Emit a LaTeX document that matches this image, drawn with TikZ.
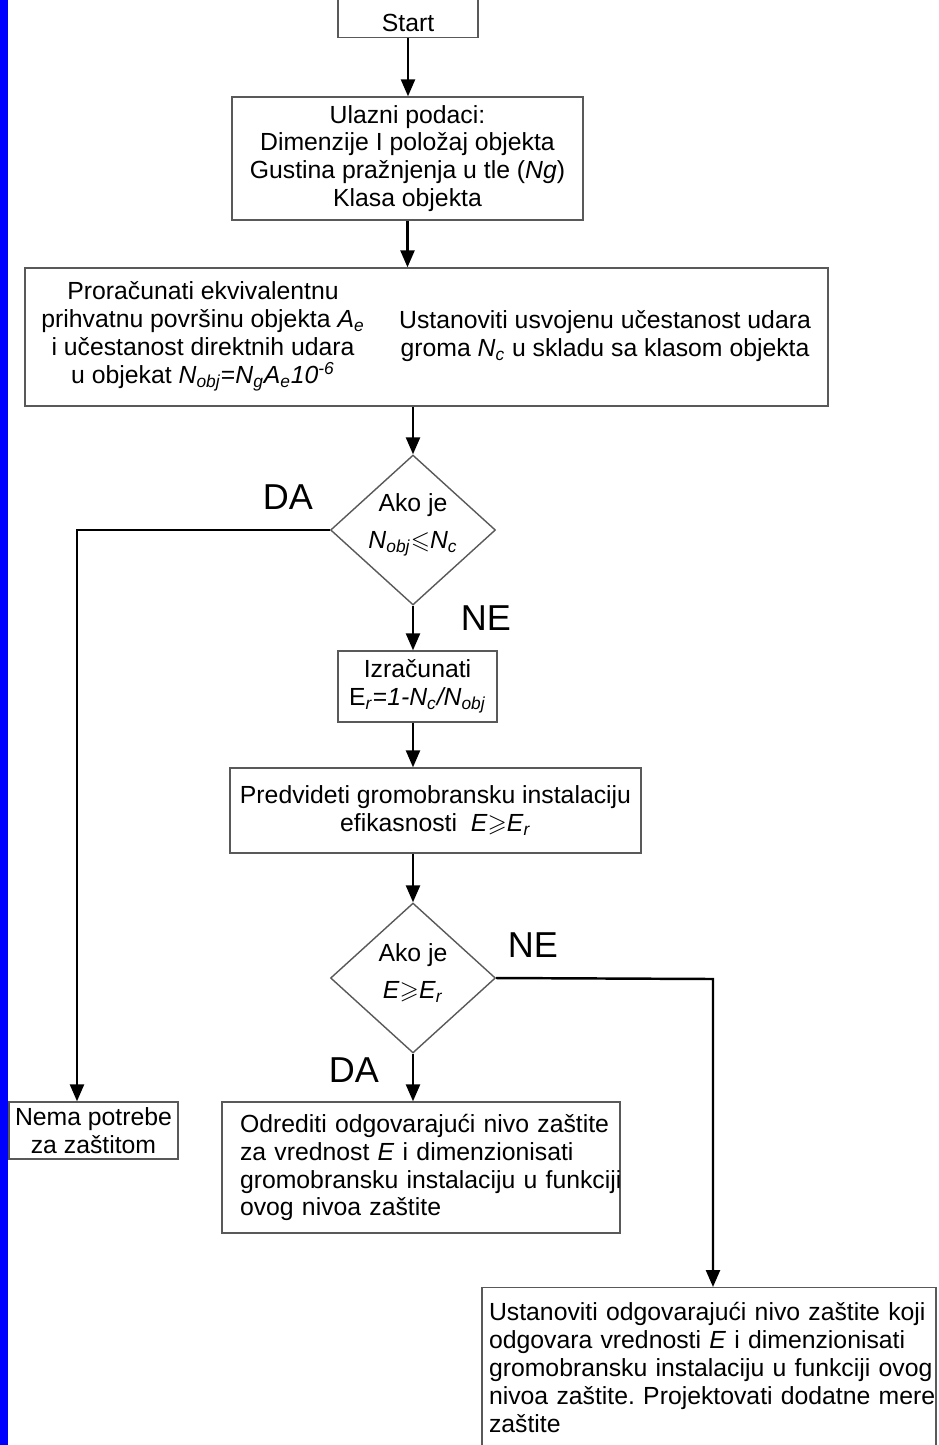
\documentclass[tikz,border=0pt]{standalone}
\usepackage{fontspec}
\setmainfont{Liberation Sans}
\usepackage{amssymb}
\usetikzlibrary{shapes.geometric,arrows.meta}
\tikzset{
  every node/.style={font=\fontsize{14.1}{15.9}\selectfont},
  box/.style={draw=black!65,line width=0.8pt,inner sep=0pt,align=center},
  decision/.style={box,diamond,minimum width=3.3cm,minimum height=3cm},
  answer/.style={font=\fontsize{20.5}{24}\selectfont},
}
\newcommand{\sub}[1]{\textsubscript{\textit{#1}}}
\frenchspacing
\begin{document}
\begin{tikzpicture}[x=0.02cm,y=-0.02cm,>={Triangle[length=0.34cm,width=0.28cm]},line width=1.4pt]
\useasboundingbox (0,0) rectangle (938,1445);
\fill[blue] (0,0) rectangle (8,1445);
% main column
\node[box,anchor=south,minimum width=2.8cm,text height=1cm,text depth=0.11cm] (start) at (408,38) {Start};
\node[box,minimum width=7.02cm,minimum height=2.46cm] (input) at (407.5,158.5)
  {Ulazni podaci:\\ Dimenzije I položaj objekta\\ Gustina pražnjenja u tle (\textit{Ng})\\ Klasa objekta};
\node[box,minimum width=16.06cm,minimum height=2.76cm] (calc) at (426.5,337) {};
\node[align=center] (calcA) at (203,336)
  {Proračunati ekvivalentnu\\ prihvatnu površinu objekta \textit{A}\sub{e}\\ i učestanost direktnih udara\\
   u objekat \textit{N}\sub{obj}=\textit{N}\sub{g}\textit{A}\sub{e}\textit{10}\textsuperscript{\textit{-6}}};
\node[align=center] (calcB) at (605,336)
  {Ustanoviti usvojenu učestanost udara\\ groma \textit{N}\sub{c} u skladu sa klasom objekta};
\node[decision] (dec1) at (413,530) {};
\node[align=center] (dec1txt) at (413,525) {Ako je\\[5pt] \textit{N}\sub{obj}$\leqslant$\textit{N}\sub{c}};
\node[box,minimum width=3.18cm,minimum height=1.42cm] (izr) at (417.5,686.5)
  {Izračunati\\ E\sub{r}=\textit{1-N}\sub{c}\textit{/N}\sub{obj}};
\node[box,minimum width=8.22cm,minimum height=1.7cm] (pred) at (435.5,810.5)
  {Predvideti gromobransku instalaciju\\ efikasnosti \ \textit{E}$\geqslant$\textit{E}\sub{r}};
\node[decision] (dec2) at (413,978) {};
\node[align=center] (dec2txt) at (413,973) {Ako je\\[5pt] \textit{E}$\geqslant$\textit{E}\sub{r}};
% outcomes
\node[box,minimum width=3.38cm,minimum height=1.14cm] (nema) at (93.5,1130.5) {Nema potrebe\\ za zaštitom};
\node[box,align=left,inner xsep=0.36cm,text width=7.24cm,minimum height=2.62cm] (odr) at (421,1167.5)
  {\mbox{Odrediti odgovarajući nivo zaštite}\\ \mbox{za vrednost \textit{E} i dimenzionisati}\\
   \mbox{gromobransku instalaciju u funkciji}\\ \mbox{ovog nivoa zaštite}};
\node[box,align=left,anchor=north,inner xsep=0.14cm,inner ysep=0.3cm,text width=8.8cm] (ust) at (709,1287)
  {\mbox{Ustanoviti odgovarajući nivo zaštite koji}\\ \mbox{odgovara vrednosti \textit{E} i dimenzionisati}\\
   \mbox{gromobransku instalaciju u funkciji ovog}\\ \mbox{nivoa zaštite. Projektovati dodatne mere}\\ zaštite\\[6pt]};
\node[answer] (da1) at (288,497) {DA};
\node[answer] (ne1) at (486,618) {NE};
\node[answer] (ne2) at (533,945) {NE};
\node[answer] (da2) at (354,1070) {DA};
\coordinate (daturn) at (77,530);
\coordinate (neturn) at (713,979);
% connectors
\draw[->] (start.south) -- (start.south |- input.north);
\draw[->] (input.south) -- (input.south |- calc.north);
\draw[->] (dec1.north |- calc.south) -- (dec1.north);
\draw[->] (dec1.south) -- (dec1.south |- izr.north);
\draw[->] (dec2.north |- izr.south) -- (dec2.north |- pred.north);
\draw[->] (dec2.north |- pred.south) -- (dec2.north);
\draw[->] (dec2.south) -- (dec2.south |- odr.north);
\draw[->] (dec1.west) -- (daturn) -- (daturn |- nema.north);
\draw[->] (dec2.east) -- (neturn) -- (neturn |- ust.north);
\end{tikzpicture}
\end{document}
